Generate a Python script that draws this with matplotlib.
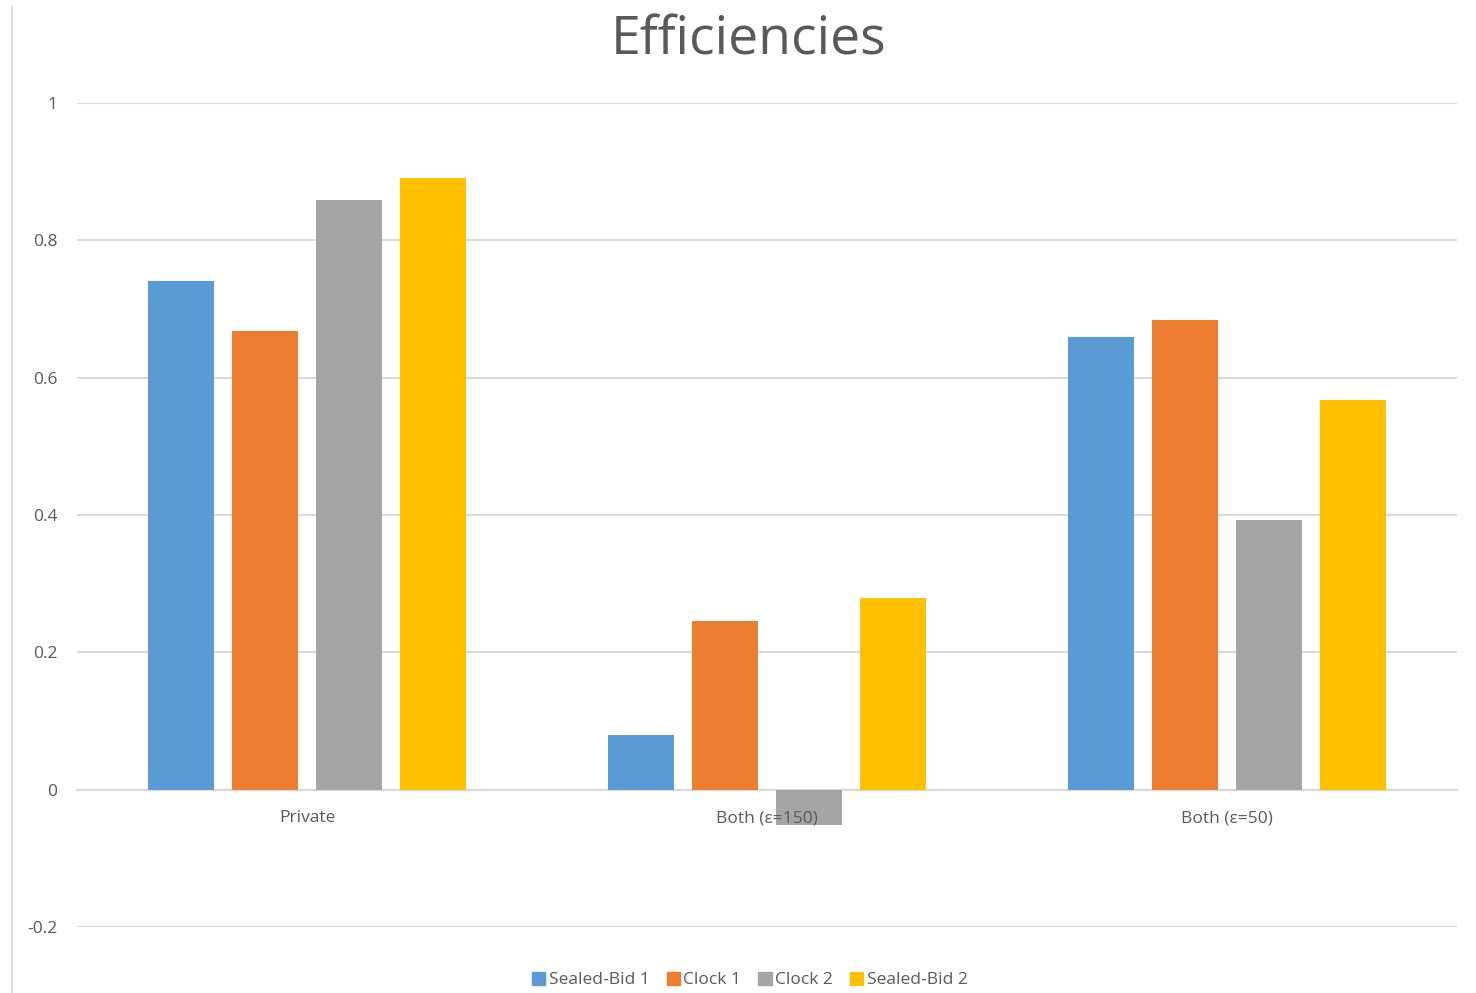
import numpy as np
import matplotlib
matplotlib.use('Agg')
import matplotlib.pyplot as plt
from matplotlib.lines import Line2D

# Datos
categorias = ['Private', 'Both (ε=150)', 'Both (ε=50)']
sealed_bid_1 = [0.741, 0.080, 0.659]
clock_1 = [0.668, 0.245, 0.684]
clock_2 = [0.859, -0.052, 0.392]
sealed_bid_2 = [0.891, 0.279, 0.568]
series = ['Sealed-Bid 1', 'Clock 1', 'Clock 2', 'Sealed-Bid 2']
colores = ['#5b9bd5', '#ed7d31', '#a5a5a5', '#ffc000']

plt.rcParams['font.family'] = ['Open Sans', 'DejaVu Sans']
texto = '#595959'
rejilla = '#d9d9d9'

fig = plt.figure(figsize=(14.76, 9.93), dpi=100)
ax = fig.add_axes([77 / 1476, 66 / 993, 1380 / 1476, 824 / 993])

x = np.arange(len(categorias))
paso = 0.1826
ancho = 0.1435
valores = [sealed_bid_1, clock_1, clock_2, sealed_bid_2]
for i, (vals, nombre, c) in enumerate(zip(valores, series, colores)):
    ax.bar(x + (i - 1.5) * paso, vals, ancho, color=c, label=nombre, zorder=2)

ax.set_xlim(-0.5, 2.5)
ax.set_ylim(-0.2, 1.0)
ax.set_yticks([-0.2, 0, 0.2, 0.4, 0.6, 0.8, 1])
ax.set_yticklabels(['-0.2', '0', '0.2', '0.4', '0.6', '0.8', '1'])
ax.yaxis.grid(True, color=rejilla, linewidth=1.5)
ax.yaxis.set_zorder(0.5)
# etiquetas de categoria por encima de las barras
ax.xaxis.set_zorder(5)

ax.set_xticks(x)
ax.set_xticklabels(categorias)
for s in ['top', 'right', 'left']:
    ax.spines[s].set_visible(False)
ax.spines['bottom'].set_position(('data', 0))
ax.spines['bottom'].set_color(rejilla)
ax.spines['bottom'].set_linewidth(1.5)
ax.spines['bottom'].set_zorder(1)
ax.tick_params(axis='x', length=0, pad=15, labelsize=12.5, labelcolor=texto)
ax.tick_params(axis='y', length=0, pad=14, labelsize=12.5, labelcolor=texto)

fig.text(0.507, 0.959, 'Efficiencies', ha='center', va='center',
         fontsize=38.5, color=texto)

# linea vertical del borde izquierdo
fig.add_artist(Line2D([12 / 1476, 12 / 1476], [0, 0.993], color=rejilla,
                      linewidth=1.2, transform=fig.transFigure))

handles = [plt.Rectangle((0, 0), 1, 1, color=c) for c in colores]
fig.legend(handles, series, loc='center', bbox_to_anchor=(0.508, 0.013),
           ncol=4, frameon=False, fontsize=12.5, labelcolor=texto,
           handlelength=0.75, handleheight=0.75, handletextpad=0.2,
           columnspacing=1.0)

fig.savefig('out.png', dpi=100)
